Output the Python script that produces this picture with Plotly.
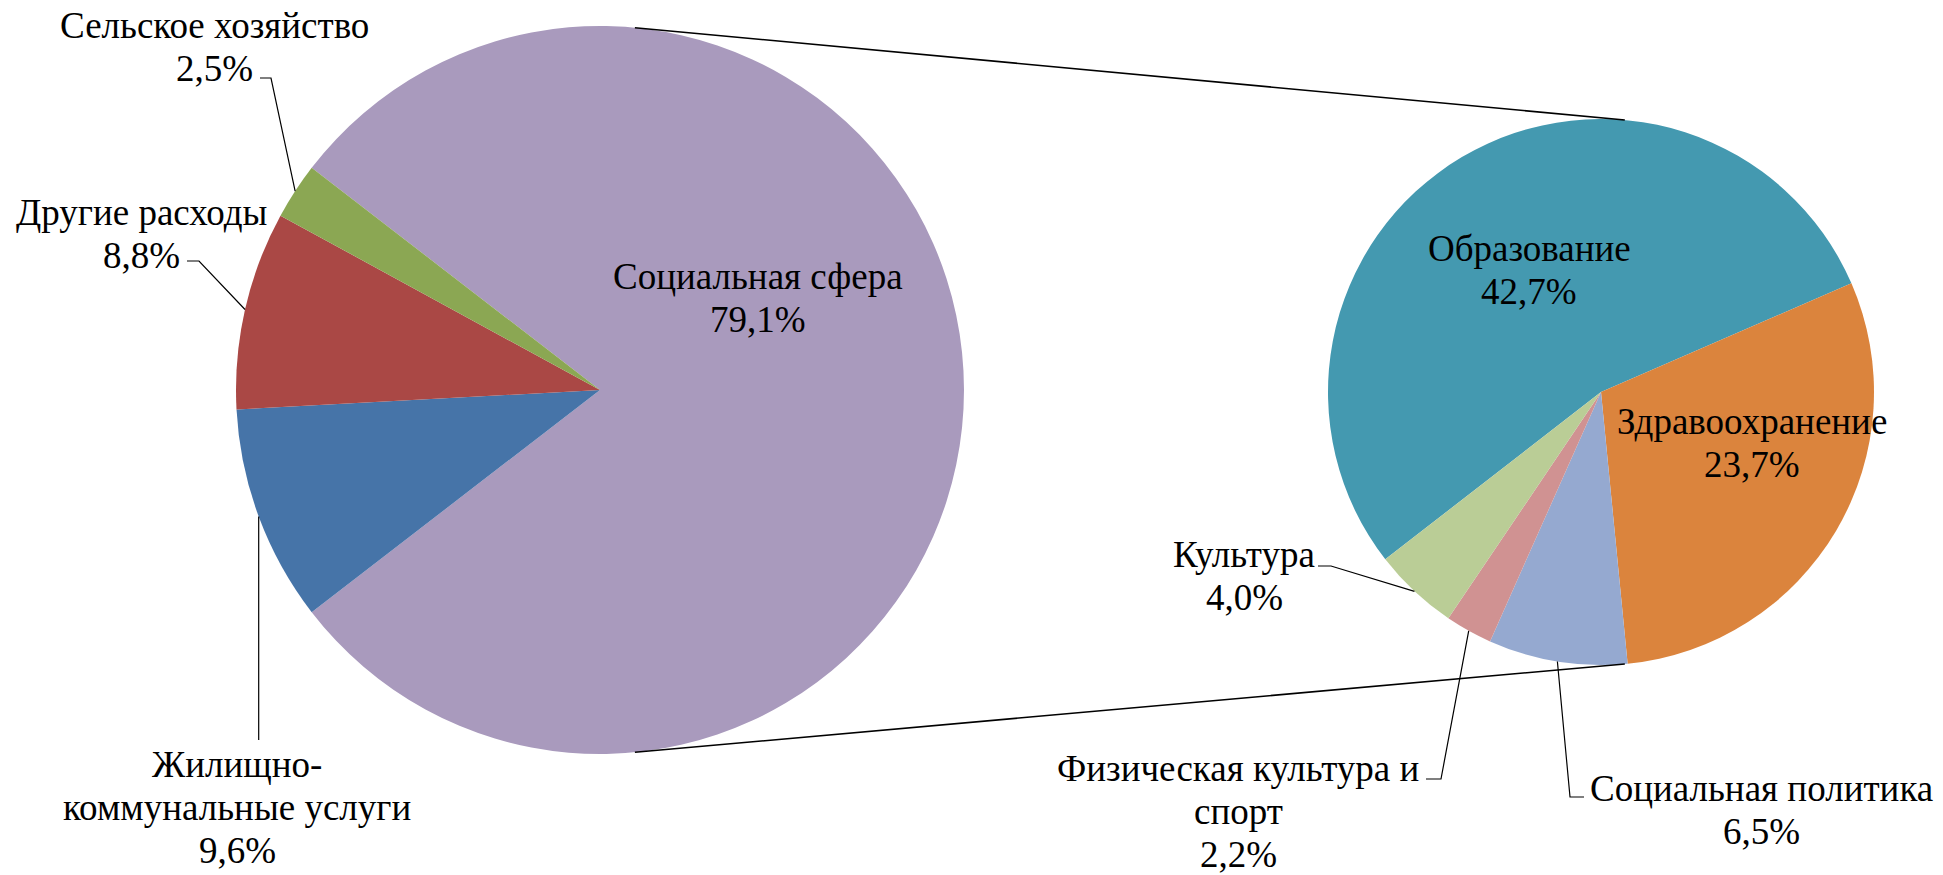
import math
import plotly.graph_objects as go

# ---------------- data ----------------
main_labels = ["Социальная сфера", "Жилищно-<br>коммунальные услуги", "Другие расходы", "Сельское хозяйство"]
main_values = [79.1, 9.6, 8.8, 2.5]

sub_labels = ["Образование", "Здравоохранение", "Социальная политика",
              "Физическая культура и<br>спорт", "Культура"]
sub_values = [42.7, 23.7, 6.5, 2.2, 4.0]

# ---------------- style / geometry ----------------
W, H = 1943, 875
main_colors = ["#A99ABD", "#4674A8", "#AA4845", "#8BA753"]
sub_colors = ["#4499B0", "#DB843D", "#95A9D0", "#D09292", "#BACD96"]
FONT = "Times New Roman, Liberation Serif, serif"
FS = 37
LS = 43  # line spacing, px

L_CX, L_CY, L_R = 600, 390, 364
R_CX, R_CY, R_R = 1601, 392, 273
main_rotation = 90 - main_values[0] / sum(main_values) * 180
sub_rotation = -127.8

# label block centres (px) for each slice
main_label_pos = [(758, 298), (237, 807), (141, 234), (214, 47)]
sub_label_pos = [(1529, 270), (1752, 443), (1761, 810), (1238, 811), (1244, 576)]
# leader lines: fixed points near the label (px); last point is the slice edge
main_leaders = {1: [("vert", 740)], 2: [(187, 261), (199, 261)], 3: [(260, 78), (271, 78)]}
sub_leaders = {2: [(1584, 797), (1570, 797)], 3: [(1426, 779), (1441, 779)], 4: [(1318, 566), (1331, 566)]}


def px(x, y):
    return x / W, 1 - y / H


def mid_points(values, rot, cx, cy, r):
    total = sum(values)
    a = rot
    out = []
    for v in values:
        span = v / total * 360
        m = math.radians(a + span / 2)
        out.append((cx + r * math.sin(m), cy - r * math.cos(m)))
        a += span
    return out


def edge(cx, cy, r, deg):
    t = math.radians(deg)
    return cx + r * math.sin(t), cy - r * math.cos(t)


def fmt(v):
    return f"{v:.1f}".replace(".", ",") + "%"


fig = go.Figure()
fig.add_trace(go.Pie(
    labels=main_labels, values=main_values, sort=False, direction="clockwise",
    rotation=main_rotation, marker=dict(colors=main_colors, line=dict(width=0)),
    textinfo="none", hoverinfo="label+percent", showlegend=False,
    domain=dict(x=[(L_CX - L_R) / W, (L_CX + L_R) / W], y=[1 - (L_CY + L_R) / H, 1 - (L_CY - L_R) / H]),
))
fig.add_trace(go.Pie(
    labels=sub_labels, values=sub_values, sort=False, direction="clockwise",
    rotation=sub_rotation, marker=dict(colors=sub_colors, line=dict(width=0)),
    textinfo="none", hoverinfo="label+value", showlegend=False,
    domain=dict(x=[(R_CX - R_R) / W, (R_CX + R_R) / W], y=[1 - (R_CY + R_R) / H, 1 - (R_CY - R_R) / H]),
))

annotations = []
shapes = []


def add_labels(labels, values, positions, leaders, mids):
    for i, (lab, val) in enumerate(zip(labels, values)):
        lines = lab.split("<br>") + [fmt(val)]
        cx, cy = positions[i]
        n = len(lines)
        for k, line in enumerate(lines):
            x, y = px(cx, cy + (k - (n - 1) / 2) * LS)
            annotations.append(dict(
                x=x, y=y, xref="paper", yref="paper", showarrow=False,
                text=line, align="center", xanchor="center", yanchor="middle",
                font=dict(family=FONT, size=FS, color="black"),
            ))
        if i in leaders:
            pts = []
            for p in leaders[i]:
                if p[0] == "vert":
                    pts.append((mids[i][0], p[1]))
                else:
                    pts.append(p)
            pts.append(mids[i])
            path = "M " + " L ".join(f"{px(a, b)[0]},{px(a, b)[1]}" for a, b in pts)
            shapes.append(dict(type="path", path=path, xref="paper", yref="paper",
                               line=dict(color="black", width=1.2)))


add_labels(main_labels, main_values, main_label_pos, main_leaders,
           mid_points(main_values, main_rotation, L_CX, L_CY, L_R))
add_labels(sub_labels, sub_values, sub_label_pos, sub_leaders,
           mid_points(sub_values, sub_rotation, R_CX, R_CY, R_R))

# connector lines between the two pies
for la, ra in [(5.5, 5.0), (174.5, 175.0)]:
    x0, y0 = px(*edge(L_CX, L_CY, L_R, la))
    x1, y1 = px(*edge(R_CX, R_CY, R_R, ra))
    shapes.append(dict(type="line", x0=x0, y0=y0, x1=x1, y1=y1, xref="paper", yref="paper",
                       line=dict(color="black", width=1.6)))

fig.update_layout(
    width=W, height=H, margin=dict(l=0, r=0, t=0, b=0),
    paper_bgcolor="white", plot_bgcolor="white",
    annotations=annotations, shapes=shapes,
    font=dict(family=FONT, size=FS, color="black"),
)

fig.write_html("out.html", config={"displayModeBar": False},
               post_script="document.body.style.margin='0px';document.body.style.overflow='hidden';")
